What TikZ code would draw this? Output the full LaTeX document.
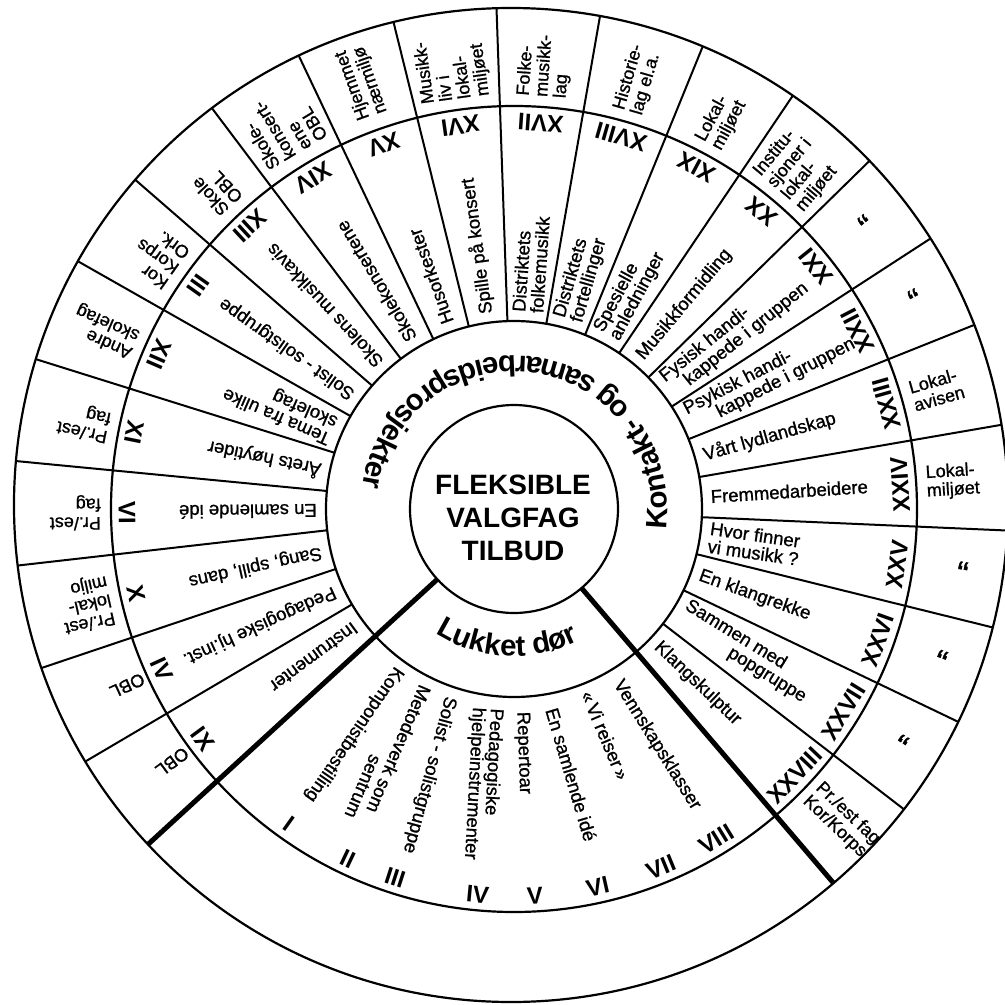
\documentclass[tikz,border=0pt]{standalone}
\usepackage{fontspec}
\setmainfont{Liberation Sans}
\newfontfamily\medfont[FakeBold=1]{Liberation Sans}
\usetikzlibrary{decorations.text}
\newcommand{\dittomark}{{\fontsize{34}{34}\selectfont“}}

\begin{document}
\begin{tikzpicture}[
    x=1pt, y=1pt,
    ring/.style={draw, line width=2.2pt},
    spoke/.style={draw, line width=2pt},
    door/.style={draw, line width=5pt},
    cell/.style={font=\medfont\fontsize{18.5}{18}\selectfont, inner sep=0pt, align=left, anchor=west},
    outer/.style={font=\medfont\fontsize{18}{18.5}\selectfont, inner sep=0pt, align=left, anchor=west},
    num/.style={font=\bfseries\fontsize{24}{24}\selectfont, inner sep=0pt},
    arctext/.style={decorate, decoration={text along path, text align=center,
      text={|\bfseries\fontsize{29.5}{29.5}\selectfont|#1}}}
  ]
  \fill[white] (-514,-496) rectangle (491,509);
  \useasboundingbox (-514,-496) rectangle (491,509);

  % Rings (centre outwards)
  \draw[ring] (0,0) circle (104);
  \draw[ring] (0,0) circle (188);
  \draw[ring] (0,0) circle (403);
  \node[align=center, font=\bfseries\fontsize{28}{33}\selectfont] (centre) at (-1,-9) {FLEKSIBLE\\VALGFAG\\TILBUD};

  % Ring titles
  \path[arctext={Kontakt- og samarbeidsprosjekter}] (-14:153) arc[start angle=-14, end angle=178, radius=153];
  \path[arctext={Lukket dør}] (230:147) arc[start angle=230, end angle=304, radius=147];

  % Spokes, cut at the rim
  \begin{scope}
    \clip (-3,4) circle (497);
    \foreach \a in {210.5,198.6,186.5,174.5,162.6,150.4,139,127,115.4,103.9,92,80.1,67.8,56,44.4,33,21.8,9.8,-2.5,-13.9,-25.6,-37.6}
      \draw[spoke] (\a:188) -- (\a:520);
    \draw[door] (222.5:104) -- (222.5:520);
    \draw[door] (-49.5:104) -- (-49.5:520);
  \end{scope}
  \draw[ring] (-3,4) circle (497);

  % Kontakt cells: angle / numeral / inner text / outer start radius / outer text
  \foreach \a/\n/\txt/\r/\o [count=\i] in {
      216.5/IX/{Instrumenter}/407/{OBL},
      204.55/IV/{Pedagogiske hj.inst.}/407/{OBL},
      192.55/X/{Sang, spill, dans}/413/{Pr./est\\lokal-\\miljo},
      180.5/VI/{En samlende idé}/413/{Pr./est\\fag},
      168.55/XI/{Årets høytider}/413/{Pr./est\\fag},
      156.5/XII/{Tema fra ulike\\skolefag}/413/{Andre\\skolefag},
      144.7/III/{Solist - solistgruppe}/413/{Kor\\Korps\\Ork.},
      133/XIII/{Skolens musikkavis}/413/{Skole\\OBL},
      121.2/XIV/{Skolekonsertene}/415/{Skole-\\konsert-\\ene\\OBL},
      109.65/XV/{Husorkester}/417/{Hjemmet\\nærmiljø},
      97.95/XVI/{Spille på konsert}/413/{Musikk-\\liv i\\lokal-\\miljøet},
      86.05/XVII/{Distriktets\\folkemusikk}/413/{Folke-\\musikk-\\lag},
      73.95/XVIII/{Distriktets\\fortellinger}/413/{Historie-\\lag el.a.},
      61.9/XIX/{Spesielle\\anledninger}/413/{Lokal-\\miljøet},
      50.2/XX/{Musikkformidling}/413/{Institu-\\sjoner i\\lokal-\\miljøet},
      38.7/XXI/{Fysisk handi-\\\hspace*{0.9em}kappede i gruppen}/447/{\dittomark},
      27.4/XXII/{Psykisk handi-\\\hspace*{1.5em}kappede i gruppen}/447/{\dittomark},
      15.8/XXIII/{Vårt lydlandskap}/413/{Lokal-\\avisen},
      3.65/XXIV/{Fremmedarbeidere}/413/{Lokal-\\miljøet},
      -8.2/XXV/{Hvor finner\\vi musikk ?}/447/{\dittomark},
      -19.75/XXVI/{En klangrekke}/447/{\dittomark},
      -31.6/XXVII/{Sammen med\\\hspace*{3.3em}popgruppe}/447/{\dittomark},
      -43.55/XXVIII/{Klangskulptur}/411/{Pr./est fag\\Kor/Korps}}{
    \node[cell, rotate=\a] (t\i) at (\a:197) {\txt};
    \node[num, rotate=\a+90] (n\i) at (\a:387) {\n};
    \node[outer, rotate=\a] (o\i) at (\a:\r) {\o};
  }

  % Lukket dør: angle / radius / tilt / text
  \foreach \a/\r/\tilt/\txt [count=\i] in {
      234.2/196.5/235.5/{Komponistbestilling},
      240.9/198.6/247/{Metodeverk som\\\hspace*{4.5em}sentrum},
      251.2/198.3/255/{Solist - solistgruppe},
      262.2/200.7/267/{Pedagogiske\\hjelpeinstrumenter},
      272.2/202.8/272/{Repertoar},
      280.7/202.8/286.5/{En samlende idé},
      291.7/196.6/293/{«\,Vi reiser\,»},
      300.9/201.2/302/{Vennskapsklasser}}
    \node[cell, rotate=\tilt] (b\i) at (\a:\r) {\txt};
  \foreach \a/\n [count=\i] in {234.5/I, 244.6/II, 252.1/III, 264.6/IV, 273.1/V, 282.5/VI, 292.3/VII, 301.5/VIII}
    \node[num, rotate=\a+90] (m\i) at (\a:387) {\n};
\end{tikzpicture}
\end{document}
